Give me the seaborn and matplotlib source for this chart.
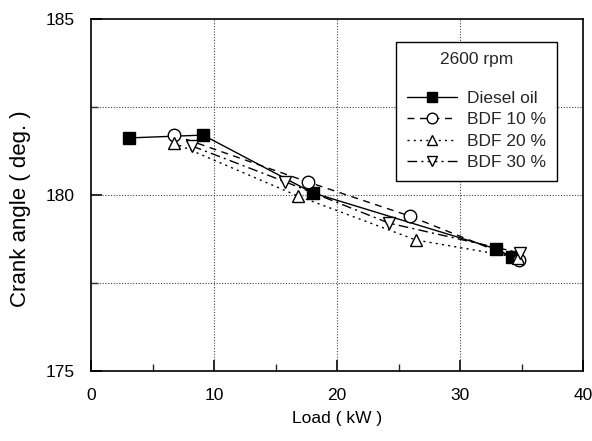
import matplotlib
matplotlib.use("Agg")
import matplotlib.pyplot as plt
import seaborn as sns
import pandas as pd
from matplotlib.ticker import MultipleLocator

sns.set_theme(style="white")
plt.rcParams['font.family'] = ['Liberation Sans', 'DejaVu Sans']

series_names = ["Diesel oil", "BDF 10 %", "BDF 20 %", "BDF 30 %"]
diesel_x = [3.1, 9.1, 18.0, 32.9, 34.2]
diesel_y = [181.62, 181.70, 180.06, 178.47, 178.24]
bdf10_x = [6.75, 17.6, 25.9, 34.8]
bdf10_y = [181.70, 180.37, 179.40, 178.15]
bdf20_x = [6.7, 16.8, 26.4, 34.7]
bdf20_y = [181.48, 179.97, 178.72, 178.22]
bdf30_x = [8.2, 15.8, 24.2, 34.9]
bdf30_y = [181.39, 180.37, 179.20, 178.35]

xs = [diesel_x, bdf10_x, bdf20_x, bdf30_x]
ys = [diesel_y, bdf10_y, bdf20_y, bdf30_y]
markers = ["s", "o", "^", "v"]
faces = ["black", "white", "white", "white"]
dashes = ["-", (0, (5, 4)), (0, (1.5, 3)), (0, (7, 3, 1.5, 3))]
msizes = [8, 9, 9, 9]

FS = 12.5

fig = plt.figure(figsize=(5.92, 4.41), dpi=100)
ax = fig.add_axes([0.154, 0.159, 0.831, 0.798])

for name, x, y, m, fc, ls, ms in zip(series_names, xs, ys, markers, faces, dashes, msizes):
    df = pd.DataFrame({"x": x, "y": y})
    sns.lineplot(data=df, x="x", y="y", ax=ax, sort=False, color="black",
                 marker=m, markersize=ms, markerfacecolor=fc, markeredgecolor="black",
                 markeredgewidth=1.0, linewidth=1.0, linestyle=ls, label=name, zorder=3)

ax.set_xlim(0, 40)
ax.set_ylim(175, 185)
ax.xaxis.set_major_locator(MultipleLocator(10))
ax.xaxis.set_minor_locator(MultipleLocator(5))
ax.yaxis.set_major_locator(MultipleLocator(5))
ax.yaxis.set_minor_locator(MultipleLocator(2.5))
ax.tick_params(axis="both", which="major", direction="in", length=8, width=1.2,
               labelsize=FS, colors="black", bottom=True, left=True, pad=12)
ax.tick_params(axis="both", which="minor", direction="in", length=5, width=1.0,
               bottom=True, left=True)

for v in [10, 20, 30]:
    ax.axvline(v, color="#444444", linestyle=(0, (1, 1.5)), linewidth=0.8, zorder=1)
for v in [177.5, 180, 182.5]:
    ax.axhline(v, color="#444444", linestyle=(0, (1, 1.5)), linewidth=0.8, zorder=1)

for s in ax.spines.values():
    s.set_color("black")
    s.set_linewidth(1.2)

ax.set_xlabel("Load ( kW )", fontsize=FS, color="black", labelpad=6)
ax.set_ylabel("Crank angle ( deg. )", fontsize=16, color="black")
ax.yaxis.set_label_coords(-0.122, 0.46)

leg = ax.legend(title="2600 rpm\n", loc="upper left", bbox_to_anchor=(0.620, 0.935),
                fontsize=FS, title_fontsize=FS, frameon=True, fancybox=False,
                edgecolor="black", handlelength=2.9, handletextpad=0.6,
                labelspacing=0.36, borderpad=0.6, borderaxespad=0, markerscale=0.85)
leg.get_frame().set_linewidth(1.0)
leg.get_frame().set_alpha(1)
leg.set_zorder(5)

fig.savefig("out.png", dpi=100)
